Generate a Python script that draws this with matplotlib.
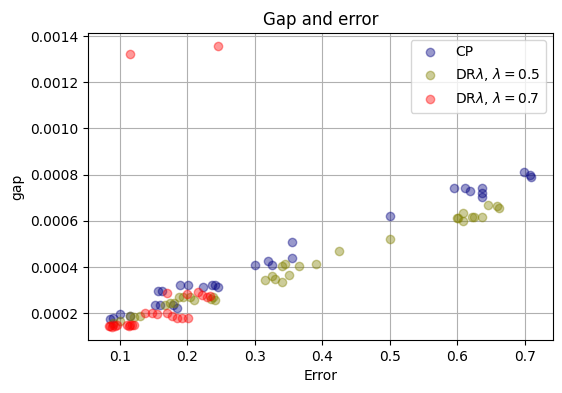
import numpy as np
import matplotlib
matplotlib.use("Agg")
import matplotlib.pyplot as plt

# CP
cp_err = [0.085, 0.09, 0.10, 0.115, 0.152, 0.159, 0.179, 0.185, 0.157, 0.162,
          0.189, 0.201, 0.223, 0.237, 0.241, 0.245,
          0.30, 0.32, 0.325, 0.355, 0.355, 0.50,
          0.595, 0.612, 0.619, 0.636, 0.636, 0.637, 0.699, 0.708, 0.71]
cp_gap = [0.000175, 0.00018, 0.000195, 0.00019, 0.000235, 0.000235, 0.000235, 0.000222, 0.000296, 0.000296,
          0.000322, 0.000322, 0.000313, 0.000322, 0.000322, 0.000315,
          0.00041, 0.000425, 0.00041, 0.00051, 0.00044, 0.00062,
          0.000743, 0.000743, 0.00073, 0.000743, 0.00072, 0.000704, 0.000813, 0.0008, 0.00079]

# DR lambda = 0.5
dr5_err = [0.09, 0.10, 0.115, 0.12, 0.13, 0.167, 0.174, 0.18, 0.187, 0.194, 0.204, 0.209,
           0.238, 0.241, 0.235,
           0.315, 0.325, 0.33, 0.34, 0.345, 0.34, 0.35, 0.365, 0.39, 0.425, 0.50,
           0.601, 0.609, 0.609, 0.622, 0.625, 0.637, 0.646, 0.659, 0.662, 0.60]
dr5_gap = [0.00016, 0.000165, 0.00019, 0.000185, 0.00019, 0.000235, 0.000243, 0.000245, 0.00027, 0.00027, 0.00027, 0.000257,
           0.00027, 0.000257, 0.000262,
           0.000345, 0.00036, 0.00035, 0.000405, 0.000415, 0.000335, 0.000365, 0.000405, 0.000415, 0.00047, 0.00052,
           0.000613, 0.000635, 0.0006, 0.000617, 0.000617, 0.000617, 0.00067, 0.000665, 0.000657, 0.000613]

# DR lambda = 0.7
dr7_err = [0.115, 0.245,
           0.083, 0.085, 0.088, 0.09, 0.092, 0.095, 0.11, 0.113, 0.115, 0.118, 0.12,
           0.137, 0.148, 0.155, 0.17, 0.177, 0.185, 0.192, 0.201, 0.17, 0.20,
           0.216, 0.222, 0.229, 0.233]
dr7_gap = [0.00132, 0.001355,
           0.000145, 0.000145, 0.00014, 0.00015, 0.000145, 0.00015, 0.00015, 0.000145, 0.000148, 0.00015, 0.00015,
           0.0002, 0.0002, 0.000195, 0.0002, 0.00019, 0.000178, 0.000178, 0.000178, 0.000287, 0.000285,
           0.00029, 0.00028, 0.00027, 0.000275]

fig = plt.figure(figsize=(5.62, 3.93), dpi=100)
ax = fig.add_axes([88 / 562, 1 - 340 / 393, (553 - 88) / 562, (340 - 33) / 393])

ax.plot(cp_err, cp_gap, 'o', color='navy', alpha=0.4, label='CP')
ax.plot(dr5_err, dr5_gap, 'o', color='olive', alpha=0.4, label=r'DR$\lambda$, $\lambda=0.5$')
ax.plot(dr7_err, dr7_gap, 'o', color='red', alpha=0.4, label=r'DR$\lambda$, $\lambda=0.7$')

ax.set_xticks([0.1, 0.2, 0.3, 0.4, 0.5, 0.6, 0.7])
ax.set_yticks([0.0002, 0.0004, 0.0006, 0.0008, 0.0010, 0.0012, 0.0014])
ax.set_yticklabels(['0.0002', '0.0004', '0.0006', '0.0008', '0.0010', '0.0012', '0.0014'])
ax.set_xlim(0.0525, 0.742)
ax.set_ylim(0.0000844, 0.001413)
ax.grid(True)
ax.set_xlabel('Error')
ax.set_ylabel('gap')
ax.set_title('Gap and error')
ax.legend(loc='upper right')

fig.savefig('out.png', dpi=100)
